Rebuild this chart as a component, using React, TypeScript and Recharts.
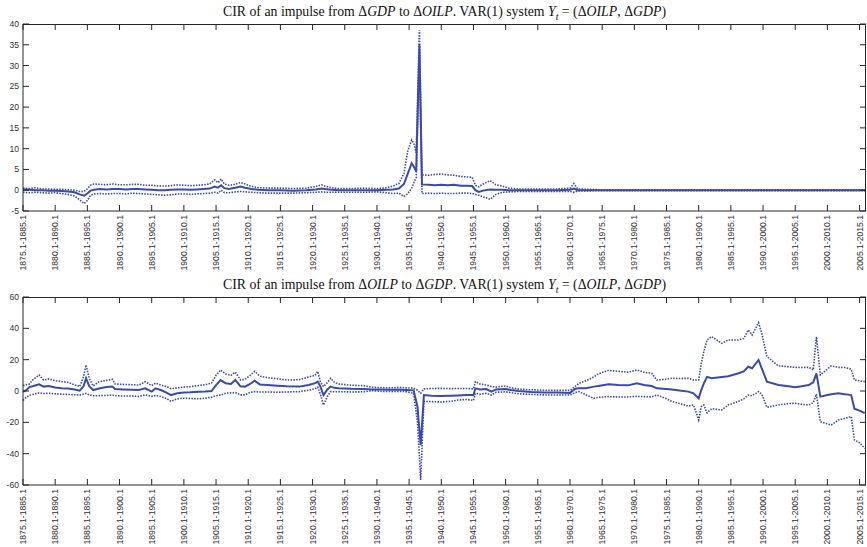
import { LineChart, Line, XAxis, YAxis } from 'recharts';

const BLUE = '#3b4aa8';
const AXIS = '#262626';
const LABEL_FONT = '"Liberation Sans", Arial, Helvetica, sans-serif';

// rolling-window start years shown on the x axis (window = start.1 .. start+10 .1)
const windowStarts = [
  1875, 1880, 1885, 1890, 1895, 1900, 1905, 1910, 1915, 1920, 1925, 1930, 1935, 1940,
  1945, 1950, 1955, 1960, 1965, 1970, 1975, 1980, 1985, 1990, 1995, 2000, 2005,
];
const X_DOMAIN: [number, number] = [1875, 2006];
const gdpOilTicks = [-5, 0, 5, 10, 15, 20, 25, 30, 35, 40];
const oilGdpTicks = [-60, -40, -20, 0, 20, 40, 60];

// CIR of an impulse from dGDP to dOILP
const gdpOilYears = [
  1875, 1876, 1877, 1878, 1879, 1880, 1881, 1882, 1883, 1883.8,
  1884.5, 1885, 1885.5, 1886, 1887, 1888, 1889, 1890, 1891, 1892,
  1893, 1894, 1895, 1896, 1897, 1898, 1899, 1900, 1901, 1902,
  1903, 1904, 1904.8, 1905.3, 1905.8, 1906.3, 1907, 1908, 1908.8, 1909.5,
  1910.5, 1911.5, 1913, 1915, 1917, 1919, 1920.5, 1921.4, 1922.5, 1924,
  1926, 1928, 1930, 1931.5, 1932.5, 1933.4, 1934.2, 1934.8, 1935.4, 1935.8,
  1936.1, 1936.6, 1937, 1938, 1939, 1940, 1941, 1942, 1943, 1944,
  1944.8, 1945.3, 1945.8, 1946.5, 1947.6, 1948.5, 1949.5, 1950.5, 1952, 1955,
  1958, 1960, 1960.6, 1961.2, 1965, 1975, 1990, 2006,
];
const gdpOilCir = [
  0.2, 0.1, 0.0, 0.0, -0.1, -0.1, -0.2, -0.3, -0.5, -1.0,
  -1.3, -0.8, -0.1, 0.1, 0.3, 0.2, 0.3, 0.3, 0.2, 0.3,
  0.3, 0.2, 0.1, 0.0, 0.0, 0.1, 0.2, 0.2, 0.1, 0.2,
  0.3, 0.4, 0.9, 0.6, 1.2, 0.5, 0.3, 0.6, 0.9, 0.6,
  0.3, 0.1, 0.0, 0.0, -0.1, 0.0, 0.2, 0.4, 0.2, 0.0,
  0.0, 0.0, 0.0, 0.1, 0.2, 0.4, 1.5, 4.0, 6.5, 5.5,
  4.5, 35.0, 1.4, 1.3, 1.2, 1.3, 1.2, 1.3, 1.1, 1.1,
  1.0, 0.0, -0.4, -0.1, 0.2, 0.1, 0.1, 0.0, 0.0, 0.0,
  0.0, 0.1, 0.4, 0.0, 0.0, 0.0, 0.0, 0.0,
];
const gdpOilLower = [
  -0.5, -0.6, -0.5, -0.6, -0.7, -0.6, -0.8, -1.0, -1.4, -2.3,
  -3.2, -2.5, -1.2, -0.9, -0.8, -0.9, -0.8, -0.8, -0.9, -0.7,
  -0.8, -0.9, -1.0, -1.1, -1.2, -1.1, -0.9, -0.9, -1.0, -0.9,
  -0.8, -0.7, -0.5, -0.7, 0.0, -0.6, -0.6, -0.4, -0.3, -0.4,
  -0.5, -0.6, -0.7, -0.7, -0.7, -0.6, -0.5, -0.4, -0.5, -0.5,
  -0.5, -0.5, -0.4, -0.6, -0.8, -0.7, -1.5, -0.8, 0.5, 2.0,
  3.0, 32.0, -0.8, -0.7, -0.8, -0.7, -0.8, -0.8, -0.7, -0.7,
  -0.8, -1.0, -1.2, -1.6, -2.2, -1.0, -0.5, -0.4, -0.3, -0.3,
  -0.3, -0.3, -0.5, -0.2, -0.1, -0.1, -0.1, -0.1,
];
const gdpOilUpper = [
  0.5, 0.4, 0.6, 0.3, 0.3, 0.2, 0.2, 0.1, 0.0, -0.3,
  -0.3, 0.4, 1.2, 1.5, 1.4, 1.3, 1.5, 1.3, 1.3, 1.4,
  1.4, 1.2, 1.2, 1.0, 1.0, 1.1, 1.3, 1.2, 1.1, 1.2,
  1.3, 1.5, 2.5, 1.8, 2.7, 1.5, 1.2, 1.4, 1.9, 1.5,
  0.9, 0.6, 0.5, 0.5, 0.4, 0.5, 0.9, 1.3, 0.7, 0.4,
  0.4, 0.5, 0.4, 0.6, 1.0, 1.6, 4.0, 9.5, 12.1, 11.0,
  9.0, 38.5, 3.7, 3.6, 3.8, 3.9, 3.7, 3.6, 3.3, 3.2,
  3.1, 1.2, 0.8, 1.5, 2.3, 1.3, 1.0, 0.5, 0.3, 0.3,
  0.3, 0.5, 1.6, 0.3, 0.1, 0.1, 0.1, 0.1,
];

// CIR of an impulse from dOILP to dGDP
const oilGdpYears = [
  1875, 1875.5, 1876, 1876.5, 1877.5, 1878.2, 1879, 1880, 1881, 1882,
  1883, 1883.8, 1884.4, 1884.8, 1885.3, 1885.9, 1886.8, 1888, 1888.9, 1889.3,
  1890.5, 1892, 1893, 1894, 1895, 1895.6, 1896.5, 1897.3, 1898, 1899,
  1900, 1901, 1902.3, 1903.3, 1904.3, 1905, 1905.7, 1906.5, 1907.3, 1908,
  1908.8, 1909.5, 1910.3, 1911, 1911.8, 1913, 1914.5, 1916, 1917.9, 1919.4,
  1920.4, 1920.8, 1921.2, 1921.7, 1922.3, 1922.8, 1923.4, 1924, 1926, 1928,
  1929.2, 1930.5, 1932, 1933.5, 1934.5, 1935.7, 1936.3, 1936.8, 1937.3, 1938.5,
  1940, 1941.5, 1942.5, 1944, 1945, 1945.3, 1946, 1947, 1947.8, 1948.5,
  1950, 1950.8, 1952, 1954, 1956, 1958, 1960, 1960.8, 1961.4, 1962.5,
  1963.7, 1964.4, 1966, 1967.5, 1969, 1970.4, 1971.5, 1972.7, 1973.5, 1975,
  1975.8, 1977, 1978.4, 1979.2, 1980, 1980.4, 1980.8, 1981.3, 1982, 1983.6,
  1984.6, 1986.2, 1987, 1987.7, 1988.3, 1989.3, 1989.8, 1990.6, 1992.4, 1994,
  1995, 1996, 1997.1, 1997.8, 1998.3, 1998.9, 2000, 2000.6, 2001.7, 2002.7,
  2003.7, 2004.2, 2005, 2005.8,
];
const oilGdpCir = [
  -0.5, 0.5, 2.5, 3.0, 4.3, 2.8, 3.2, 2.2, 1.8, 1.6,
  1.0, 0.2, 3.0, 8.1, 3.0, 0.6, 1.6, 2.5, 2.8, 1.2,
  1.0, 0.8, 0.6, 1.7, -0.4, 1.7, 0.5, -1.0, -2.6, -1.5,
  -0.9, -0.8, -0.5, -0.3, 0.0, 3.8, 7.0, 4.9, 4.5, 7.0,
  3.0, 2.8, 4.5, 6.6, 4.2, 3.8, 3.4, 3.0, 2.8, 3.8,
  5.0, 6.0, 3.0, -2.6, 1.0, 2.8, 2.0, 1.7, 1.4, 1.3,
  1.0, 0.9, 0.8, 0.9, 0.7, 0.4, -10.0, -34.5, -2.6, -3.0,
  -3.2, -3.0, -2.8, -2.6, -2.6, 1.7, 1.0, 1.2, -0.4, 1.0,
  1.3, 0.6, 0.0, -0.6, -0.9, -1.0, -1.2, 1.5, 1.7, 1.8,
  2.8, 3.2, 4.3, 3.8, 3.6, 4.9, 3.8, 3.2, 1.7, 1.2,
  0.9, 0.3, -0.4, -1.5, -4.7, 0.6, 4.9, 9.0, 8.1, 9.0,
  9.4, 11.3, 12.5, 15.5, 14.5, 19.8, 14.5, 6.0, 3.8, 3.0,
  2.4, 3.0, 3.8, 5.5, 11.3, -3.6, -2.5, -2.1, -1.5, -2.0,
  -2.6, -11.3, -12.5, -14.1,
];
const oilGdpLower = [
  -6.0, -4.0, -2.8, -2.2, -1.2, -1.6, -1.4, -1.8, -2.0, -2.2,
  -2.4, -2.6, -2.0, -1.5, -2.5, -3.0, -3.0, -2.8, -2.6, -3.0,
  -3.2, -3.2, -3.5, -2.5, -3.4, -2.8, -3.6, -4.8, -6.6, -5.0,
  -4.6, -4.8, -5.0, -4.6, -4.0, -3.0, -2.6, -1.4, -1.2, -1.0,
  -2.5, -2.5, -0.8, -0.4, -0.6, -0.6, -0.8, -0.6, -0.4, 0.5,
  1.5, 2.5, -2.0, -8.9, -3.5, -0.4, -0.5, -0.4, -0.6, -0.5,
  0.2, -0.2, -0.3, -0.2, -0.4, -1.5, -20.0, -56.8, -6.6, -6.8,
  -7.0, -6.6, -5.8, -5.4, -6.0, -1.5, -2.0, -1.5, -2.6, -0.8,
  -0.5, -1.0, -1.8, -2.2, -2.5, -2.6, -2.6, -1.0, -0.4, -2.5,
  -4.7, -4.0, -3.6, -3.8, -3.8, -3.4, -3.6, -3.8, -2.6, -5.0,
  -6.6, -8.0, -9.6, -8.9, -18.5, -10.0, -8.9, -14.0, -11.3, -12.1,
  -8.9, -6.6, -5.0, -2.6, -3.0, -0.4, -2.0, -10.4, -8.9, -8.0,
  -7.8, -8.5, -8.9, -7.5, -2.0, -19.6, -21.0, -21.7, -18.5, -17.5,
  -16.3, -31.3, -33.0, -36.6,
];
const oilGdpUpper = [
  3.5, 4.0, 4.5, 7.0, 10.2, 7.0, 7.7, 6.6, 6.0, 5.5,
  4.0, 2.8, 9.0, 16.6, 8.0, 3.2, 5.9, 6.8, 7.5, 4.5,
  4.2, 4.0, 3.8, 5.9, 3.5, 5.0, 3.6, 2.8, 1.5, 2.0,
  2.5, 2.8, 3.5, 4.0, 5.0, 10.0, 13.4, 10.9, 10.0, 12.0,
  7.0, 7.5, 10.0, 12.5, 9.5, 8.5, 7.8, 7.0, 7.2, 9.0,
  10.0, 12.5, 6.0, 2.8, 5.5, 8.1, 5.5, 4.5, 3.7, 3.4,
  2.4, 2.2, 2.0, 2.4, 2.0, 1.8, 0.5, -1.5, 1.3, 1.6,
  1.7, 1.5, 1.6, 1.6, 1.3, 6.0, 4.5, 3.8, 2.8, 2.5,
  3.2, 2.0, 1.2, 0.8, 0.5, 0.4, 0.4, 3.0, 4.9, 6.5,
  9.0, 11.0, 13.1, 12.6, 12.0, 13.4, 12.0, 11.3, 7.0, 7.5,
  8.1, 8.0, 8.1, 7.0, 7.0, 17.7, 25.1, 32.6, 34.7, 30.4,
  32.6, 32.6, 33.5, 38.9, 35.7, 43.6, 36.8, 22.0, 16.0, 15.5,
  15.1, 15.0, 15.1, 13.4, 34.7, 10.2, 14.0, 16.0, 15.1, 15.0,
  14.0, 7.0, 6.5, 6.0,
];

const toRows = (years: number[], cir: number[], lower: number[], upper: number[]) =>
  years.map((year, i) => ({ year, cir: cir[i], lower: lower[i], upper: upper[i] }));

const CHART_W = 867;
const CHART_H = 273;
const MARGIN = { top: 24, right: 1, bottom: 0, left: 0 };
const Y_AXIS_W = 23;
const PLOT_W = CHART_W - Y_AXIS_W - MARGIN.left - MARGIN.right;
const TICK_PX = 6;

// bottom axis tick: inward ticks on the bottom and top sides plus the rotated window label
const bottomTick = (plotH: number) => (props: any) => {
  const x = Number(props.x);
  const y = Number(props.y);
  const start = Number(props.payload.value);
  const top = y - plotH;
  return (
    <g>
      <line x1={x} y1={y} x2={x} y2={y - TICK_PX} stroke={AXIS} strokeWidth={1} />
      <line x1={x} y1={top} x2={x} y2={top + TICK_PX} stroke={AXIS} strokeWidth={1} />
      <text
        transform={`translate(${x},${y + 4}) rotate(-90)`}
        textAnchor="end"
        dominantBaseline="central"
        fontSize={8.6}
        fontFamily={LABEL_FONT}
        fill="#333"
      >
        {`${start}.1-${start + 10}.1`}
      </text>
    </g>
  );
};

// left axis tick with the mirrored tick on the right side of the box
const leftTick = (props: any) => {
  const x = Number(props.x);
  const y = Number(props.y);
  const right = x + PLOT_W;
  return (
    <g>
      <line x1={x} y1={y} x2={x + TICK_PX} y2={y} stroke={AXIS} strokeWidth={1} />
      <line x1={right} y1={y} x2={right - TICK_PX} y2={y} stroke={AXIS} strokeWidth={1} />
      <text
        x={x - 4}
        y={y}
        textAnchor="end"
        dominantBaseline="central"
        fontSize={8.6}
        fontFamily={LABEL_FONT}
        fill="#333"
      >
        {props.payload.value}
      </text>
    </g>
  );
};

function Title({ from, to }: { from: string; to: string }) {
  return (
    <span>
      CIR of an impulse from Δ<i>{from}</i> to Δ<i>{to}</i>. VAR(1) system{' '}
      <i>Y</i>
      <sub style={{ fontSize: '0.7em', lineHeight: 0 }}>
        <i>t</i>
      </sub>{' '}
      = (Δ<i>OILP</i>, Δ<i>GDP</i>)
    </span>
  );
}

function CirPanel({
  rows,
  ticks,
  top,
  axisHeight,
  title,
}: {
  rows: ReturnType<typeof toRows>;
  ticks: number[];
  top: number;
  axisHeight: number;
  title: React.ReactNode;
}) {
  const plotH = CHART_H - MARGIN.top - MARGIN.bottom - axisHeight;
  return (
    <div style={{ position: 'absolute', left: 0, top, width: CHART_W, height: CHART_H }}>
      <div
        style={{
          position: 'absolute',
          left: Y_AXIS_W,
          width: PLOT_W,
          top: 3,
          textAlign: 'center',
          fontFamily: '"Liberation Serif", "Times New Roman", serif',
          fontSize: 13.8,
          lineHeight: '17px',
          color: '#111',
          whiteSpace: 'nowrap',
        }}
      >
        {title}
      </div>
      <div style={{ position: 'absolute', left: 0, top: 0 }}>
        <LineChart width={CHART_W} height={CHART_H} data={rows} margin={MARGIN}>
          <XAxis
            dataKey="year"
            type="number"
            domain={X_DOMAIN}
            ticks={windowStarts}
            interval={0}
            height={axisHeight}
            tickSize={0}
            tickMargin={0}
            tickLine={false}
            stroke={AXIS}
            tick={bottomTick(plotH)}
          />
          <YAxis
            type="number"
            domain={[ticks[0], ticks[ticks.length - 1]]}
            ticks={ticks}
            interval={0}
            width={Y_AXIS_W}
            tickSize={0}
            tickMargin={0}
            tickLine={false}
            stroke={AXIS}
            allowDataOverflow
            tick={leftTick}
          />
          <Line
            type="linear"
            dataKey="upper"
            stroke={BLUE}
            strokeWidth={1.6}
            strokeDasharray="1.5 1.3"
            dot={false}
            isAnimationActive={false}
          />
          <Line
            type="linear"
            dataKey="lower"
            stroke={BLUE}
            strokeWidth={1.6}
            strokeDasharray="1.5 1.3"
            dot={false}
            isAnimationActive={false}
          />
          <Line
            type="linear"
            dataKey="cir"
            stroke={BLUE}
            strokeWidth={2}
            dot={false}
            isAnimationActive={false}
          />
        </LineChart>
      </div>
      {/* top and right sides of the axes box, laid over the chart */}
      <svg
        width={CHART_W}
        height={CHART_H}
        style={{ position: 'absolute', left: 0, top: 0, zIndex: 2, pointerEvents: 'none' }}
      >
        <path
          d={`M${Y_AXIS_W},${MARGIN.top + 0.5}H${Y_AXIS_W + PLOT_W - 0.5}V${MARGIN.top + plotH}`}
          fill="none"
          stroke={AXIS}
          strokeWidth={1}
        />
      </svg>
    </div>
  );
}

export default function App() {
  return (
    <div
      style={{
        position: 'absolute',
        left: 0,
        top: 0,
        width: CHART_W,
        height: 547,
        background: '#fff',
        overflow: 'hidden',
      }}
    >
      <CirPanel
        rows={toRows(gdpOilYears, gdpOilCir, gdpOilLower, gdpOilUpper)}
        ticks={gdpOilTicks}
        top={0}
        axisHeight={62}
        title={<Title from="GDP" to="OILP" />}
      />
      <CirPanel
        rows={toRows(oilGdpYears, oilGdpCir, oilGdpLower, oilGdpUpper)}
        ticks={oilGdpTicks}
        top={CHART_H}
        axisHeight={61}
        title={<Title from="OILP" to="GDP" />}
      />
    </div>
  );
}
